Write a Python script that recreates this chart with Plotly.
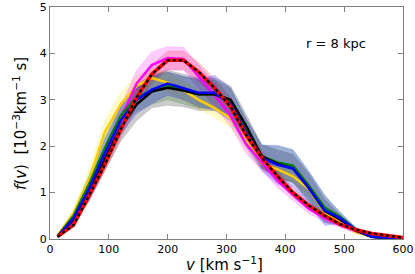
import plotly.graph_objects as go

v = [13, 40, 67, 93, 120, 147, 173, 200, 227, 253, 280, 307, 333, 360, 387, 413, 440, 467, 493, 520, 547, 573, 600]

red = [0.05, 0.30, 0.95, 1.6, 2.35, 3.05, 3.55, 3.85, 3.85, 3.6, 3.25, 2.85, 2.25, 1.75, 1.35, 1.0, 0.72, 0.5, 0.32, 0.2, 0.12, 0.07, 0.03]
magenta = [0.05, 0.35, 1.05, 1.8, 2.6, 3.35, 3.75, 3.9, 3.88, 3.5, 3.1, 2.65, 2.05, 1.65, 1.25, 0.95, 0.65, 0.45, 0.3, 0.17, 0.08, 0.03, 0.01]
yellow = [0.08, 0.55, 1.3, 2.3, 2.9, 3.3, 3.47, 3.37, 3.2, 3.0, 2.82, 2.6, 2.12, 1.63, 1.5, 1.35, 1.08, 0.58, 0.35, 0.15, 0.06, 0.02, 0.01]
green = [0.06, 0.5, 1.2, 1.95, 2.65, 3.05, 3.2, 3.3, 3.2, 3.12, 3.12, 2.95, 2.35, 1.78, 1.65, 1.58, 1.15, 0.68, 0.48, 0.2, 0.05, 0.02, 0.0]
blue = [0.05, 0.45, 1.1, 1.85, 2.55, 3.0, 3.22, 3.35, 3.25, 3.15, 3.15, 2.9, 2.3, 1.75, 1.6, 1.52, 1.1, 0.62, 0.45, 0.2, 0.05, 0.02, 0.0]
black = [0.05, 0.42, 1.02, 1.72, 2.4, 2.9, 3.18, 3.26, 3.2, 3.12, 3.12, 3.0, 2.45, 1.78, 1.62, 1.52, 1.1, 0.6, 0.42, 0.18, 0.05, 0.02, 0.0]

red_err = [0.02, 0.05, 0.1, 0.15, 0.18, 0.2, 0.2, 0.2, 0.2, 0.2, 0.2, 0.2, 0.18, 0.15, 0.12, 0.1, 0.08, 0.06, 0.05, 0.04, 0.03, 0.02, 0.01]
magenta_err = [0.03, 0.08, 0.15, 0.2, 0.25, 0.28, 0.28, 0.25, 0.25, 0.25, 0.25, 0.22, 0.2, 0.18, 0.15, 0.12, 0.1, 0.08, 0.06, 0.04, 0.03, 0.02, 0.01]
yellow_err = [0.03, 0.12, 0.2, 0.25, 0.25, 0.22, 0.2, 0.2, 0.2, 0.2, 0.2, 0.2, 0.18, 0.15, 0.15, 0.15, 0.12, 0.1, 0.08, 0.05, 0.03, 0.02, 0.01]
green_err = [0.03, 0.1, 0.2, 0.25, 0.25, 0.3, 0.3, 0.3, 0.3, 0.3, 0.3, 0.3, 0.25, 0.25, 0.35, 0.35, 0.3, 0.25, 0.1, 0.05, 0.03, 0.02, 0.01]
blue_err = [0.03, 0.12, 0.25, 0.3, 0.3, 0.3, 0.3, 0.25, 0.25, 0.3, 0.38, 0.35, 0.3, 0.27, 0.42, 0.4, 0.36, 0.33, 0.12, 0.05, 0.03, 0.02, 0.01]
black_err = [0.03, 0.1, 0.2, 0.25, 0.3, 0.35, 0.35, 0.38, 0.35, 0.35, 0.35, 0.3, 0.25, 0.25, 0.3, 0.3, 0.3, 0.25, 0.1, 0.05, 0.03, 0.02, 0.01]

x_ticks = [0, 100, 200, 300, 400, 500, 600]
y_ticks = [0, 1, 2, 3, 4, 5]

fig = go.Figure()

bands = [
    (yellow, yellow_err, "rgba(255,230,0,0.22)"),
    (red, red_err, "rgba(255,0,0,0.2)"),
    (magenta, magenta_err, "rgba(255,0,255,0.2)"),
    (green, green_err, "rgba(0,128,0,0.2)"),
    (black, black_err, "rgba(0,0,0,0.2)"),
    (blue, blue_err, "rgba(0,0,255,0.22)"),
]
for y, e, c in bands:
    hi = [a + b for a, b in zip(y, e)]
    lo = [max(a - b, 0) for a, b in zip(y, e)]
    fig.add_trace(go.Scatter(x=v, y=hi, mode="lines", line=dict(width=0.6, color=c),
                             showlegend=False, hoverinfo="skip"))
    fig.add_trace(go.Scatter(x=v, y=lo, mode="lines", line=dict(width=0.6, color=c),
                             fill="tonexty", fillcolor=c, showlegend=False, hoverinfo="skip"))

lines = [
    (yellow, "#ffcc00"),
    (magenta, "#ff00ff"),
    (green, "#008000"),
    (black, "#000000"),
    (blue, "#0000ff"),
]
for y, c in lines:
    fig.add_trace(go.Scatter(x=v, y=y, mode="lines", line=dict(width=2.5, color=c), showlegend=False))

fig.add_trace(go.Scatter(x=v, y=red, mode="lines", line=dict(width=3.5, color="#ff0000"), showlegend=False))
fig.add_trace(go.Scatter(x=v, y=red, mode="lines", line=dict(width=2.2, color="#000000", dash="3px,3px"),
                         showlegend=False))

fig.add_annotation(x=486, y=4.21, text="r = 8 kpc", showarrow=False,
                   font=dict(size=13, color="black", family="DejaVu Sans"))

axis_common = dict(showline=True, linecolor="#808080", linewidth=1, mirror="ticks",
                   ticks="inside", ticklen=5, tickcolor="#808080", tickwidth=1,
                   showgrid=False, zeroline=False, automargin=False,
                   tickfont=dict(size=11, color="black", family="DejaVu Sans"))

fig.update_xaxes(range=[0, 600], tickvals=x_ticks, ticktext=[str(t) for t in x_ticks], **axis_common)
fig.update_yaxes(range=[0, 5], tickvals=y_ticks, ticktext=[str(t) for t in y_ticks], **axis_common)

# axis titles placed in paper coordinates
fig.add_annotation(xref="paper", yref="paper", x=0.495, y=-0.108, yanchor="middle", showarrow=False,
                   text="<i>v</i> [km s<sup>−1</sup>]",
                   font=dict(size=15, color="black", family="DejaVu Sans"))
fig.add_annotation(xref="paper", yref="paper", x=-0.085, y=0.5, xanchor="center", yanchor="middle",
                   textangle=-90, showarrow=False,
                   text="<i>f</i>(<i>v</i>)  [10<sup>−3</sup>km<sup>−1</sup> s]",
                   font=dict(size=15, color="black", family="DejaVu Sans"))

fig.update_layout(width=415, height=274, margin=dict(l=50, r=12, t=7, b=35),
                  plot_bgcolor="white", paper_bgcolor="white", showlegend=False)

fig.write_html("out.html", config={"displayModeBar": False},
               post_script="document.body.style.margin='0';")
